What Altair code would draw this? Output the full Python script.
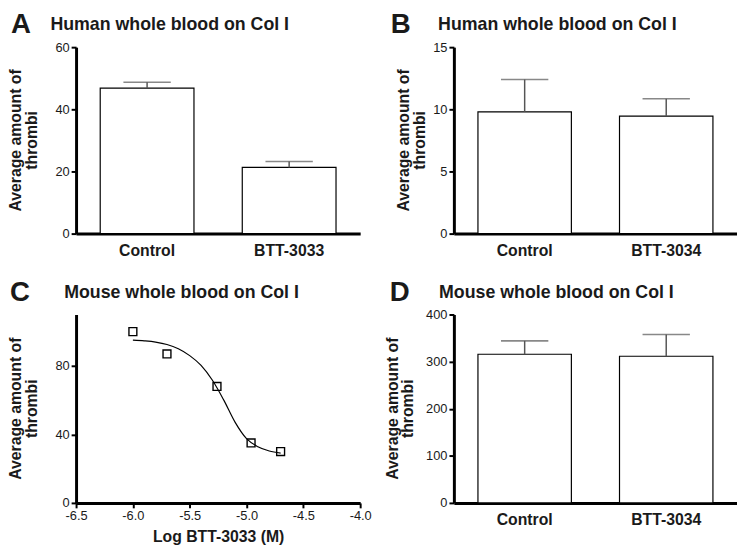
import altair as alt
import pandas as pd

FONT = "Liberation Sans"
INK = "#1a1a1a"
ERR = "#555555"

# ---------------- data ----------------
a_groups = ["Control", "BTT-3033"]
a_means = [46.8, 21.3]
a_sem = [1.9, 1.9]

b_groups = ["Control", "BTT-3034"]
b_means = [9.8, 9.45]
b_sem = [2.6, 1.4]

d_groups = ["Control", "BTT-3034"]
d_means = [315.6, 311.4]
d_sem = [28.4, 46.0]

c_log_dose = [-6.0, -5.70, -5.26, -4.96, -4.70]
c_amount = [100, 87, 68, 35, 30]
c_fit_log_dose = [-6.0, -5.9, -5.8, -5.7, -5.6, -5.5, -5.4, -5.3, -5.2, -5.1, -5.0, -4.9, -4.8, -4.7]
c_fit_amount = [95, 94.6, 93.9, 92.5, 90, 86, 80.3, 71.6, 60, 47, 37.5, 32.8, 30.3, 29.1]

y_title_lines = ["Average amount of", "thrombi"]

W1, W2 = 288, 287
H_TOP, H_BOT = 189, 191

# explicit axis styling (no tickSize: default 5 is used)
AXIS_STYLE = dict(
    domainColor="black", domainWidth=3, tickColor="black",
    tickWidth=2, labelPadding=2, labelFontSize=13,
    labelColor=INK, labelOverlap=False,
)


def text_layer(txt, x, y, size, angle=0, align="left", baseline="top"):
    df = pd.DataFrame({"t": [txt]})
    return alt.Chart(df).mark_text(
        align=align, baseline=baseline, font=FONT, fontWeight="bold",
        fontSize=size, color=INK, angle=angle,
    ).encode(text="t:N", x=alt.value(x), y=alt.value(y))


def header(letter, title, letter_dx, title_dx, ytitle_dx, height):
    layers = [
        text_layer(letter, letter_dx, -36, 28),
        text_layer(title, title_dx, -31, 18),
    ]
    for i, line in enumerate(y_title_lines):
        layers.append(text_layer(line, ytitle_dx + 16 * i, height / 2, 16,
                                 angle=270, align="center", baseline="middle"))
    return layers


def bar_panel(letter, title, groups, means, sems, ymax, ystep,
              letter_dx, title_dx, ytitle_dx, width, height):
    df = pd.DataFrame({
        "group": groups,
        "mean": means,
        "upper": [m + s for m, s in zip(means, sems)],
    })
    x = alt.X(
        "group:N", sort=groups,
        scale=alt.Scale(paddingInner=0.34, paddingOuter=0.17),
        axis=alt.Axis(title=None, labelAngle=0, ticks=False, domainColor="black",
                      domainWidth=3, labelFontSize=16,
                      labelFontWeight="bold", labelColor=INK, labelPadding=9),
    )
    yvals = list(range(0, ymax + 1, ystep))
    y = alt.Y("mean:Q", scale=alt.Scale(domain=[0, ymax], nice=False),
              axis=alt.Axis(title=None, values=yvals, **AXIS_STYLE))
    base = alt.Chart(df)
    bars = base.mark_bar(fill="white", stroke="black", strokeWidth=1.2).encode(x=x, y=y)
    rule = base.mark_rule(color=ERR, strokeWidth=1.5).encode(
        x=alt.X("group:N", sort=groups), y="mean:Q", y2="upper:Q")
    cap = base.mark_tick(color=ERR, thickness=1.6, size=48).encode(
        x=alt.X("group:N", sort=groups), y="upper:Q")
    return alt.layer(bars, rule, cap,
                     *header(letter, title, letter_dx, title_dx, ytitle_dx, height)).properties(
        width=width, height=height)


panel_a = bar_panel("A", "Human whole blood on Col I", a_groups, a_means, a_sem,
                    60, 20, -66, -26, -61, W1, H_TOP)
panel_b = bar_panel("B", "Human whole blood on Col I", b_groups, b_means, b_sem,
                    15, 5, -64, -16, -50, W2, H_TOP)
panel_d = bar_panel("D", "Mouse whole blood on Col I", d_groups, d_means, d_sem,
                    400, 100, -65, -15, -62, W2, H_BOT)

# ---- panel C: dose response ----
pts = pd.DataFrame({"logdose": c_log_dose, "amount": c_amount})
fit = pd.DataFrame({"logdose": c_fit_log_dose, "amount": c_fit_amount})

cx = alt.X(
    "logdose:Q", scale=alt.Scale(domain=[-6.5, -4.0], nice=False, zero=False),
    axis=alt.Axis(
        title="Log BTT-3033 (M)", values=[-6.5, -6.0, -5.5, -5.0, -4.5, -4.0],
        labelExpr="replace(format(datum.value, '.1f'), '\u2212', '-')",
        titlePadding=6, labelFlush=False, titleFontSize=16,
        titleFontWeight="bold", titleColor=INK, **AXIS_STYLE,
    ),
)
cy = alt.Y("amount:Q", scale=alt.Scale(domain=[0, 110], nice=False),
           axis=alt.Axis(title=None, values=[0, 20, 40, 60, 80, 100], **AXIS_STYLE))

line = alt.Chart(fit).mark_line(color="black", strokeWidth=1.2, interpolate="monotone").encode(x=cx, y=cy)
points = alt.Chart(pts).mark_point(shape="square", size=64, filled=False,
                                   color="black", strokeWidth=1.4, opacity=1).encode(
    x=alt.X("logdose:Q"), y=alt.Y("amount:Q"))

panel_c = alt.layer(line, points,
                    *header("C", "Mouse whole blood on Col I", -67, -12, -61, H_BOT)).properties(
    width=W1, height=H_BOT)

chart = alt.concat(
    panel_a, panel_b, panel_c, panel_d,
    columns=2, spacing={"row": 82, "column": 95}, bounds="flush",
).properties(
    padding=0,
).configure(
    background="white",
    font=FONT,
    view=alt.ViewConfig(stroke=None),
    axis=alt.AxisConfig(grid=False, domainColor="black", domainWidth=3,
                        tickColor="black", tickWidth=2, labelFontSize=13,
                        labelColor=INK, labelOverlap=False),
)

chart.save("out.html", embed_options={"renderer": "svg", "actions": False})
